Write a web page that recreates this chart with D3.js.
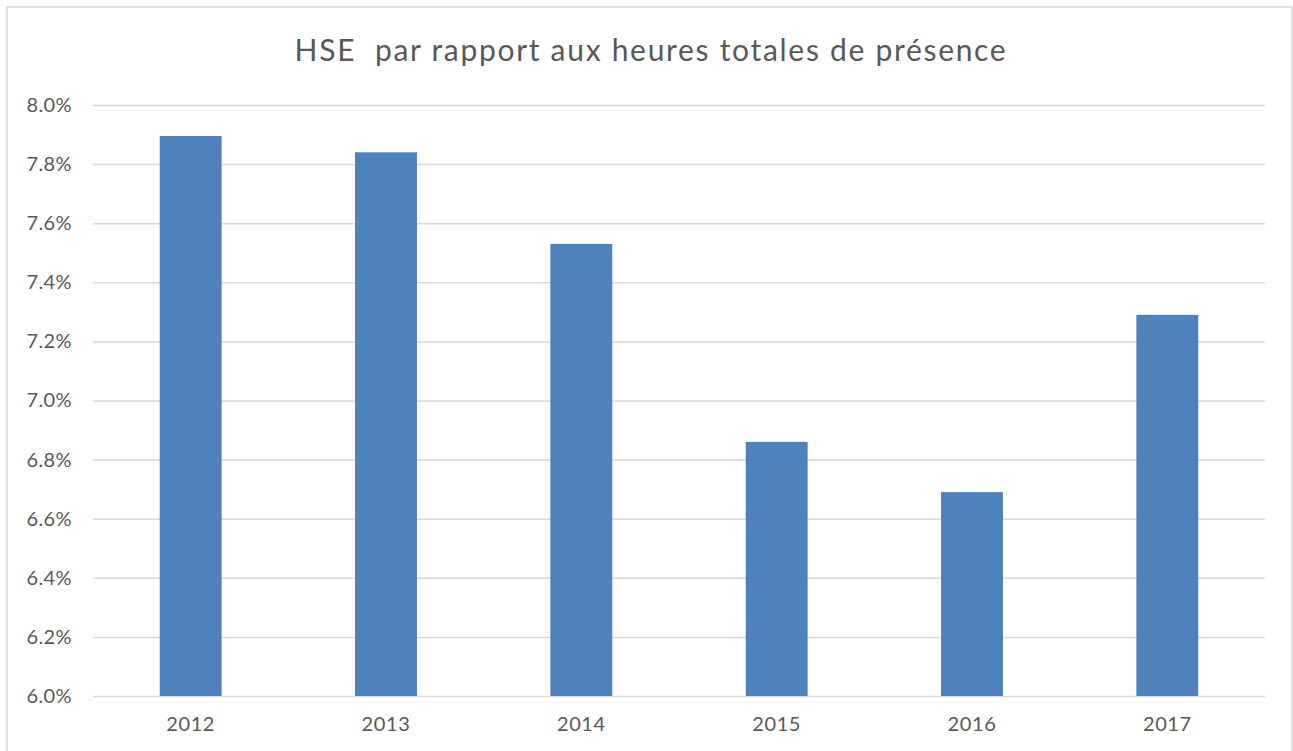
<!DOCTYPE html>
<html><head><meta charset="utf-8">
<script src="https://cdn.jsdelivr.net/npm/d3@7"></script>
<style>body{margin:0;background:#fff;} svg{display:block;}</style>
</head><body>
<svg id="c" width="1293" height="751"></svg>
<script>
const title = "HSE  par rapport aux heures totales de présence";
const years = ["2012","2013","2014","2015","2016","2017"];
const values = [0.07895, 0.0784, 0.0753, 0.0686, 0.0669, 0.0729];
const yTicks = [0.06,0.062,0.064,0.066,0.068,0.07,0.072,0.074,0.076,0.078,0.08];

(function(){
const svg = d3.select("#c");
const font = "Lato, 'Open Sans', sans-serif";
const textColor = "#595959";

svg.append("rect").attr("x",7).attr("y",7).attr("width",1285).attr("height",760)
  .attr("fill","#fff").attr("stroke","#d9d9d9").attr("stroke-width",1.5);

const mL=93, mR=1265, mT=105, mB=696;
const x = d3.scaleBand().domain(years).range([mL,mR]).paddingInner(0.683).paddingOuter(0.3415);
const y = d3.scaleLinear().domain([0.06,0.08]).range([mB,mT]);

const yAxis = d3.axisLeft(y).tickValues(yTicks).tickFormat(d3.format(".1%")).tickSize(-(mR-mL)).tickPadding(21);
const gy = svg.append("g").attr("transform",`translate(${mL},0)`).call(yAxis);
gy.select(".domain").remove();
gy.selectAll(".tick line").attr("stroke","#d9d9d9").attr("stroke-width",1.5);
gy.selectAll(".tick text").attr("fill",textColor).style("font-family",font).style("font-size","20px")
  .style("letter-spacing","0.4px");

svg.append("g").selectAll("rect").data(years).join("rect")
  .attr("x",d=>x(d)).attr("width",x.bandwidth())
  .attr("y",(d,i)=>y(values[i])).attr("height",(d,i)=>y(0.06)-y(values[i]))
  .attr("fill","#4f81bd");

const xAxis = d3.axisBottom(x).tickSize(0).tickPadding(21);
const gx = svg.append("g").attr("transform",`translate(0,${mB})`).call(xAxis);
gx.select(".domain").remove();
gx.selectAll(".tick text").attr("fill",textColor).style("font-family",font).style("font-size","20px")
  .style("letter-spacing","0.6px");

svg.append("text").attr("x",651).attr("y",61).attr("text-anchor","middle")
  .style("white-space","pre").attr("xml:space","preserve")
  .style("letter-spacing","1.7px")
  .attr("fill",textColor).style("font-family",font).style("font-size","30px").text(title);
})();
</script>
</body></html>
